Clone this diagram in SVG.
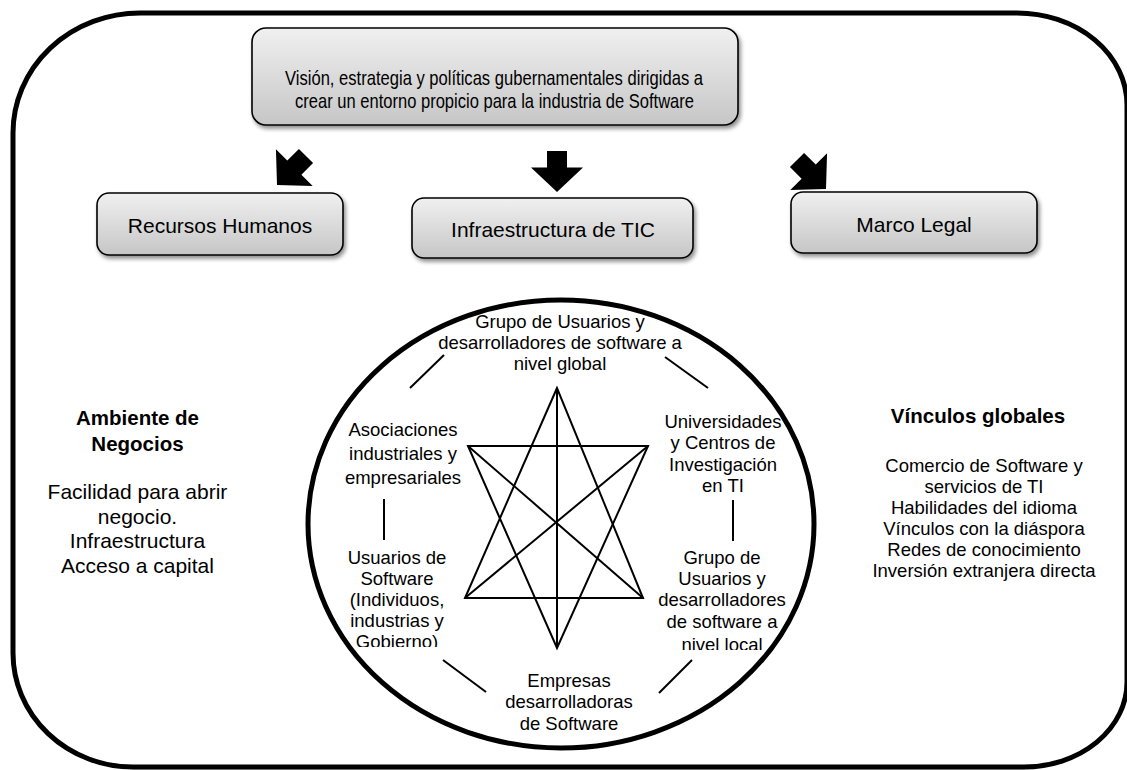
<svg xmlns="http://www.w3.org/2000/svg" width="1127" height="770" viewBox="0 0 1127 770">
  <style>
    text { font-family: "Liberation Sans", Arial, sans-serif; fill: #000; text-anchor: middle; }
    .box { fill: url(#boxGrad); stroke: #000; stroke-width: 1.6; filter: url(#shadow); }
    .boxlbl { font-size: 21px; }
    .ring { font-size: 18.5px; }
    .side { font-size: 21px; }
    .sideR { font-size: 18.5px; }
    .head { font-weight: bold; font-size: 20.5px; }
    .ln { stroke: #000; stroke-width: 2; fill: none; stroke-linecap: butt; }
  </style>
  <defs>
    <linearGradient id="boxGrad" x1="0" y1="0" x2="0" y2="1">
      <stop offset="0" stop-color="#f0f0f0"/>
      <stop offset="1" stop-color="#c6c6c6"/>
    </linearGradient>
    <filter id="shadow" x="-10%" y="-20%" width="130%" height="160%">
      <feGaussianBlur in="SourceAlpha" stdDeviation="2.2"/>
      <feOffset dx="2" dy="3" result="b"/>
      <feComponentTransfer><feFuncA type="linear" slope="0.45"/></feComponentTransfer>
      <feMerge><feMergeNode/><feMergeNode in="SourceGraphic"/></feMerge>
    </filter>
    <!-- block arrow pointing down, tip at the origin -->
    <path id="blockArrow" d="M-10,-41 H10 V-24.5 H26 L0,0 L-26,-24.5 H-10 Z" fill="#000"/>
    <clipPath id="clipUsers"><rect x="300" y="540" width="200" height="107"/></clipPath>
    <clipPath id="clipLocal"><rect x="640" y="540" width="180" height="110"/></clipPath>
  </defs>

  <rect width="1127" height="770" fill="#fff"/>
  <line x1="130" y1="769.5" x2="1025" y2="769.5" stroke="#dcdcdc" stroke-width="1"/>

  <!-- outer frame -->
  <path id="frame" d="M140,13 H1017 A110,92 0 0 1 1127,105 V682 A103,85 0 0 1 1024,767 H133 A120,114 0 0 1 13,653 V133 A127,120 0 0 1 140,13 Z" fill="none" stroke="#000" stroke-width="5"/>

  <g id="vision">
    <rect class="box" x="252" y="28" width="486" height="97" rx="14"/>
    <text x="494" y="85" font-size="21" textLength="418" lengthAdjust="spacingAndGlyphs">Visión, estrategia y políticas gubernamentales dirigidas a</text>
    <text x="494.5" y="108" font-size="21" textLength="399" lengthAdjust="spacingAndGlyphs">crear un entorno propicio para la industria de Software</text>
  </g>

  <g id="recursos">
    <rect class="box" x="97" y="193" width="246" height="62" rx="12"/>
    <text class="boxlbl" x="220" y="233">Recursos Humanos</text>
  </g>

  <g id="infraestructura">
    <rect class="box" x="412" y="198" width="281" height="60" rx="12"/>
    <text class="boxlbl" x="553" y="237">Infraestructura de TIC</text>
  </g>

  <g id="marco">
    <rect class="box" x="791" y="192" width="246" height="61" rx="12"/>
    <text class="boxlbl" x="914" y="232">Marco Legal</text>
  </g>

  <g id="arrows">
    <use href="#blockArrow" transform="translate(277,185) rotate(45)"/>
    <use href="#blockArrow" transform="translate(557,192)"/>
    <use href="#blockArrow" transform="translate(826,189) rotate(-45)"/>
  </g>

  <g id="ambiente">
    <text class="head" x="137.5" y="425">Ambiente de</text>
    <text class="head" x="137.5" y="451">Negocios</text>
    <text class="side" x="137.5" y="499">Facilidad para abrir</text>
    <text class="side" x="137.5" y="523.5">negocio.</text>
    <text class="side" x="137.5" y="548">Infraestructura</text>
    <text class="side" x="137.5" y="572.5">Acceso a capital</text>
  </g>

  <g id="vinculos">
    <text class="head" x="978" y="423">Vínculos globales</text>
    <text class="sideR" x="984" y="472">Comercio de Software y</text>
    <text class="sideR" x="984" y="493">servicios de TI</text>
    <text class="sideR" x="984" y="514">Habilidades del idioma</text>
    <text class="sideR" x="984" y="535">Vínculos con la diáspora</text>
    <text class="sideR" x="984" y="556">Redes de conocimiento</text>
    <text class="sideR" x="984" y="577">Inversión extranjera directa</text>
  </g>

  <!-- ecosystem ring -->
  <ellipse id="ring" cx="561" cy="524" rx="253" ry="224" fill="none" stroke="#000" stroke-width="5"/>

  <g id="global">
    <text class="ring" x="560" y="328">Grupo de Usuarios y</text>
    <text class="ring" x="560" y="349">desarrolladores de software a</text>
    <text class="ring" x="560" y="370">nivel global</text>
  </g>
  <g id="asociaciones">
    <text class="ring" x="403" y="436">Asociaciones</text>
    <text class="ring" x="403" y="460">industriales y</text>
    <text class="ring" x="403" y="484">empresariales</text>
  </g>
  <g id="universidades">
    <text class="ring" x="723" y="428">Universidades</text>
    <text class="ring" x="723" y="449">y Centros de</text>
    <text class="ring" x="723" y="471">Investigación</text>
    <text class="ring" x="723" y="492">en TI</text>
  </g>
  <g id="usuarios" clip-path="url(#clipUsers)">
    <text class="ring" x="397" y="564">Usuarios de</text>
    <text class="ring" x="397" y="585">Software</text>
    <text class="ring" x="397" y="606">(Individuos,</text>
    <text class="ring" x="397" y="627">industrias y</text>
    <text class="ring" x="397" y="648">Gobierno)</text>
  </g>
  <g id="local" clip-path="url(#clipLocal)">
    <text class="ring" x="722" y="564">Grupo de</text>
    <text class="ring" x="722" y="585">Usuarios y</text>
    <text class="ring" x="722" y="606">desarrolladores</text>
    <text class="ring" x="722" y="628">de software a</text>
    <text class="ring" x="722" y="651">nivel local</text>
  </g>
  <g id="empresas">
    <text class="ring" x="569" y="687">Empresas</text>
    <text class="ring" x="569" y="708">desarrolladoras</text>
    <text class="ring" x="569" y="730">de Software</text>
  </g>

  <g id="connectors" class="ln">
    <line x1="410" y1="388" x2="444" y2="355"/>
    <line x1="665" y1="357" x2="708" y2="388"/>
    <line x1="384" y1="499" x2="384" y2="540"/>
    <line x1="733" y1="500" x2="733" y2="541"/>
    <line x1="443" y1="660" x2="486" y2="692"/>
    <line x1="692" y1="660" x2="659" y2="693"/>
    <!-- star linking all actors -->
    <polygon points="557,388 465,598 643,598"/>
    <polygon points="468,446 648,446 557,648"/>
    <line x1="557" y1="388" x2="557" y2="648"/>
    <line x1="468" y1="446" x2="643" y2="598"/>
    <line x1="648" y1="446" x2="465" y2="598"/>
  </g>
</svg>
